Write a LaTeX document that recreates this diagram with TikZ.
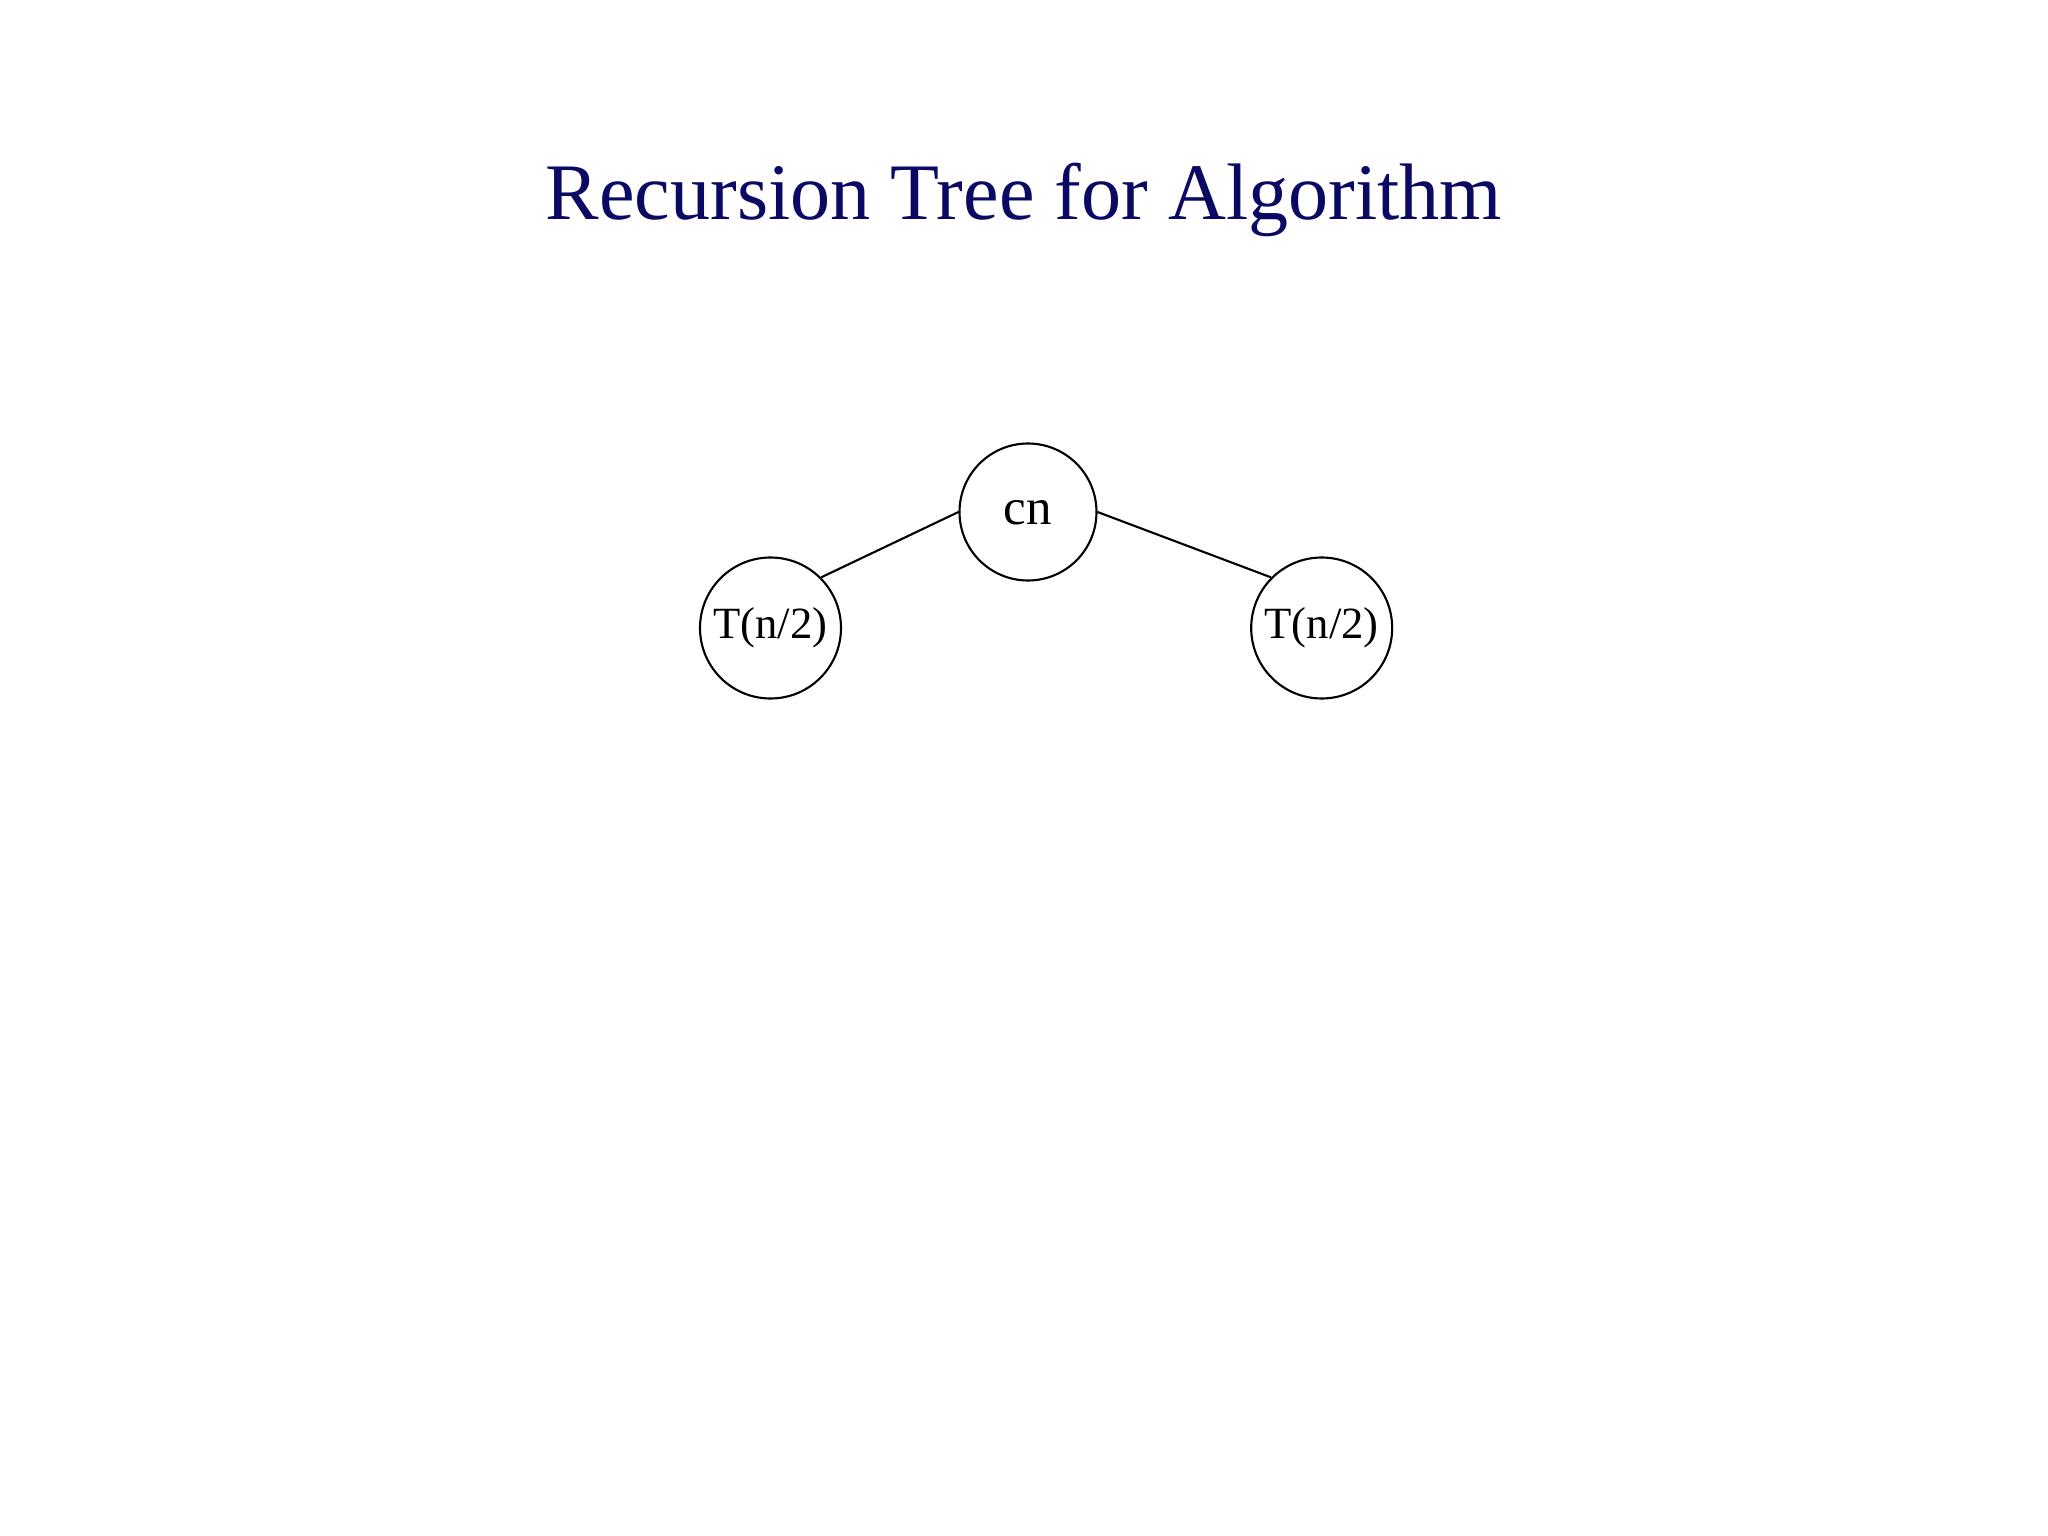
\documentclass[tikz,border=0pt]{standalone}
\usepackage{fontspec}
\setmainfont{Liberation Serif}
\definecolor{titleblue}{RGB}{10,10,100}
\begin{document}
\begin{tikzpicture}[
  tnode/.style={draw,circle,inner sep=0pt,line width=0.6pt},
  edge/.style={draw,line width=0.6pt}]
\useasboundingbox (0,0) rectangle (20.48,-15.36);
\node[titleblue,font=\fontsize{22.8}{27}\selectfont] (title) at (10.24,-2.0) {Recursion Tree for Algorithm};
\node[tnode,minimum size=1.37cm,font=\fontsize{14.5}{18}\selectfont,text depth=-0.15cm] (root) at (10.28,-5.12) {cn};
\node[tnode,minimum width=1.41cm,minimum height=1.37cm,font=\fontsize{12.7}{16}\selectfont] (l) at (7.705,-6.28) {T(n/2)};
\node[tnode,minimum width=1.41cm,minimum height=1.37cm,font=\fontsize{12.7}{16}\selectfont] (r) at (13.217,-6.28) {T(n/2)};
\draw[edge] (root.west) -- (l.45);
\draw[edge] (root.east) -- (r.135);
\end{tikzpicture}
\end{document}
